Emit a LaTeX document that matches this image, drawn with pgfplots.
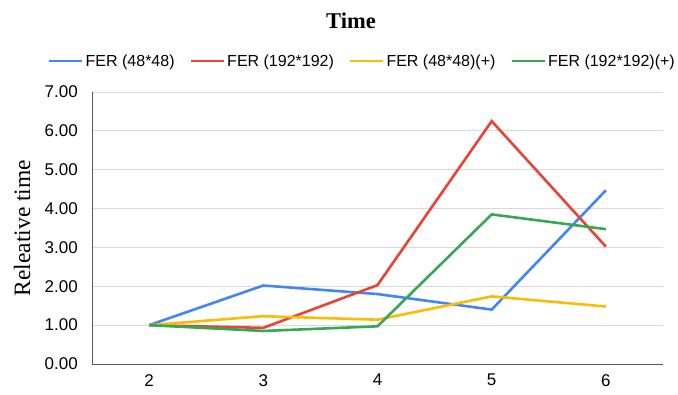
\documentclass[border=0pt]{standalone}
\usepackage{pgfplots}
\pgfplotsset{compat=1.18}
\usepackage{fontspec}
\setmainfont{Liberation Serif}
\newfontfamily\arial{Liberation Sans}
\definecolor{gblue}{HTML}{4285F4}
\definecolor{gred}{HTML}{EA4335}
\definecolor{gyellow}{HTML}{FBBC04}
\definecolor{ggreen}{HTML}{34A853}
\begin{document}
\begin{tikzpicture}
\path (0pt,0pt) rectangle (678pt,394pt);
\begin{axis}[
  at={(92pt,30pt)}, anchor=south west,
  scale only axis, width=571pt, height=272pt,
  xmin=1.5, xmax=6.5, ymin=0, ymax=7,
  xtick={2,3,4,5,6}, ytick={0,1,2,3,4,5,6,7},
  axis x line=bottom, axis y line=left,
  axis line style={-, draw=black!65, line width=1pt},
  major tick length=0pt,
  ymajorgrids, grid style={draw=black!15, line width=1pt},
  /pgf/number format/.cd, fixed, fixed zerofill, precision=2, assume math mode=true,
  /pgfplots/.cd,
  xticklabel style={font=\arial\fontsize{17}{20}\selectfont, anchor=north, inner sep=0pt, yshift=-10pt},
  xticklabel={\pgfmathprintnumber[fixed,precision=0]{\tick}},
  yticklabel style={font=\arial\fontsize{17}{20}\selectfont, anchor=east, inner sep=0pt, xshift=-14pt},
  ylabel={Releative time},
  ylabel style={at={(axis description cs:-0.1226,0.5)}, anchor=center, font=\fontsize{23.5}{26}\selectfont},
  title={\textbf{Time}},
  title style={at={(axis description cs:0.4536,1.2096)}, anchor=base, inner sep=0pt, font=\fontsize{22.5}{25}\selectfont},
  legend columns=4,
  legend style={at={(axis description cs:1.0245,1.114)}, anchor=east, draw=none, font=\arial\fontsize{16}{19}\selectfont, inner sep=0pt,
    /tikz/every even column/.append style={column sep=13pt}},
  legend image code/.code={\draw[#1] (0pt,0pt) -- (33pt,0pt);},
  every axis plot/.append style={line width=2.6pt},
  clip=false,
]
\addplot[gblue] coordinates {(2,1.00) (3,2.02) (4,1.80) (5,1.40) (6,4.47)};
\addlegendentry{FER (48*48)}
\addplot[gred] coordinates {(2,1.00) (3,0.93) (4,2.03) (5,6.25) (6,3.02)};
\addlegendentry{FER (192*192)}
\addplot[gyellow] coordinates {(2,1.00) (3,1.23) (4,1.14) (5,1.74) (6,1.48)};
\addlegendentry{FER (48*48)(+)}
\addplot[ggreen] coordinates {(2,1.00) (3,0.85) (4,0.97) (5,3.85) (6,3.47)};
\addlegendentry{FER (192*192)(+)}
\end{axis}
\end{tikzpicture}
\end{document}
